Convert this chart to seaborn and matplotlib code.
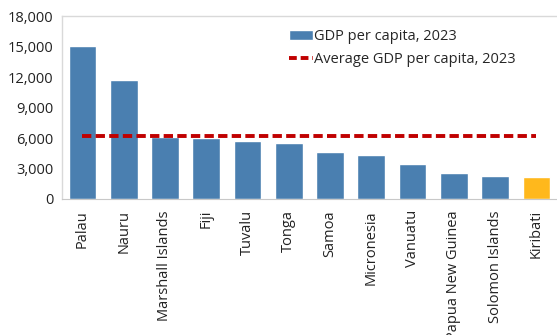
import numpy as np
import pandas as pd
import matplotlib.pyplot as plt
import seaborn as sns
from matplotlib.patches import Patch
from matplotlib.lines import Line2D

# data
countries = ["Palau", "Nauru", "Marshall Islands", "Fiji", "Tuvalu", "Tonga",
             "Samoa", "Micronesia", "Vanuatu", "Papua New Guinea",
             "Solomon Islands", "Kiribati"]
gdp_per_capita = [15050, 11700, 6100, 5970, 5700, 5480, 4590, 4360, 3470,
                  2530, 2260, 2160]
avg_gdp = 6150
yticks = [0, 3000, 6000, 9000, 12000, 15000, 18000]

bar_blue = "#4a7fb0"
highlight = "#ffb81c"
colors = [highlight if c == "Kiribati" else bar_blue for c in countries]

sns.set_style("white")
plt.rcParams["font.family"] = ["Open Sans", "DejaVu Sans"]

df = pd.DataFrame({"country": countries, "gdp": gdp_per_capita})

fig = plt.figure(figsize=(5.57, 3.35), dpi=100)
ax = fig.add_axes([0.111, 0.406, 0.889, 0.546])

sns.barplot(data=df, x="country", y="gdp", hue="country", palette=colors,
            width=0.67, legend=False, ax=ax, saturation=1)

# average drawn as a flat dashed line across all countries
avg_line = [avg_gdp] * len(countries)
sns.lineplot(x=np.arange(len(countries)), y=avg_line, color="#c00000",
             linewidth=2.8, linestyle=(0, (2.4, 1.1)), ax=ax)

ax.set_xlim(-0.5, 11.34)
ax.set_ylim(0, 18000)
ax.set_yticks(yticks)
ax.set_yticklabels([f"{v:,}" for v in yticks], fontsize=10.5, color="#222222")
ax.set_xticks(np.arange(len(countries)))
ax.set_xticklabels(countries, rotation=90, fontsize=10.5, color="#222222")
ax.tick_params(axis="x", length=0, pad=8)
ax.tick_params(axis="y", length=0, pad=6)
ax.set_xticks(np.arange(len(countries)) + 0.5, minor=True)
ax.tick_params(axis="x", which="minor", length=4, color="#d0d0d0", width=0.8)
ax.set_xlabel("")
ax.set_ylabel("")

for side in ["top", "left"]:
    ax.spines[side].set_color("#d9d9d9")
    ax.spines[side].set_linewidth(1)
ax.spines["bottom"].set_color("#c8c8c8")
ax.spines["right"].set_visible(False)

handles = [Patch(facecolor=bar_blue, label="GDP per capita, 2023"),
           Line2D([0], [0], color="#c00000", linewidth=2.8,
                  linestyle=(0, (2, 1)), label="Average GDP per capita, 2023")]
ax.legend(handles=handles, loc="upper left", bbox_to_anchor=(0.448, 0.96),
          frameon=False, fontsize=10.5, handlelength=1.6, handletextpad=0.1,
          labelspacing=0.55, borderaxespad=0)

fig.savefig("out.png", dpi=100)
